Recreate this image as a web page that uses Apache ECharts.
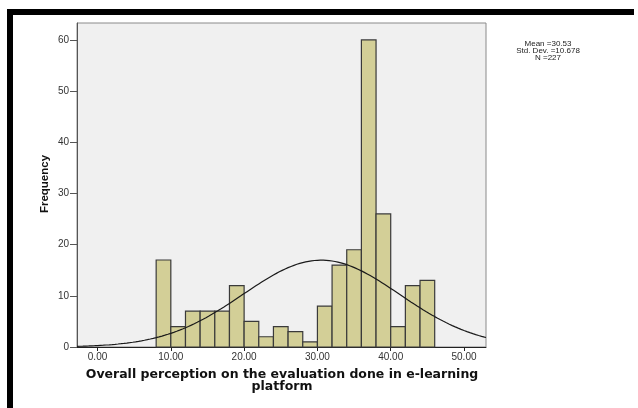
<!DOCTYPE html>
<html>
<head>
<meta charset="utf-8">
<script src="https://cdn.jsdelivr.net/npm/echarts@6/dist/echarts.min.js"></script>
<style>
  html, body { margin: 0; padding: 0; background: #fff; }
  #chart { width: 638px; height: 408px; }
</style>
</head>
<body>
<div id="chart"></div>
<script>
// Histogram bins (lower edge, width 2) and their frequencies
const binLower = [8, 10, 12, 14, 16, 18, 20, 22, 24, 26, 28, 30, 32, 34, 36, 38, 40, 42, 44];
const binWidth = 2;
const frequency = [17, 4, 7, 7, 7, 12, 5, 2, 4, 3, 1, 8, 16, 19, 60, 26, 4, 12, 13];

// Summary statistics shown beside the plot
const stats = { mean: 30.53, sd: 10.678, n: 227 };

// Axis ticks
const xTicks = [0, 10, 20, 30, 40, 50];
const yTicks = [0, 10, 20, 30, 40, 50, 60];

const xMin = -2.8, xMax = 53, yMax = 63.3;

// Fitted normal curve scaled to counts per bin
const curve = [];
for (let x = xMin; x <= xMax + 1e-9; x += 0.2) {
  const z = (x - stats.mean) / stats.sd;
  const y = stats.n * binWidth * Math.exp(-0.5 * z * z) / (stats.sd * Math.sqrt(2 * Math.PI));
  curve.push([x, y]);
}

const bars = binLower.map((lo, i) => [lo, lo + binWidth, frequency[i]]);

const chart = echarts.init(document.getElementById('chart'), null, { renderer: 'canvas' });

const labelFont = { fontFamily: 'Arial, "Liberation Sans", sans-serif', fontSize: 10, color: '#333' };

chart.setOption({
  animation: false,
  backgroundColor: '#ffffff',
  grid: {
    left: 77, top: 23, right: 152, bottom: 61,
    show: true, backgroundColor: '#f0f0f0', borderColor: '#8a8a8a', borderWidth: 1
  },
  xAxis: {
    type: 'value', min: xMin, max: xMax,
    axisLine: { show: true, onZero: false, lineStyle: { color: '#222', width: 1 } },
    axisTick: { show: true, customValues: xTicks, length: 4, lineStyle: { color: '#222' } },
    axisLabel: Object.assign({ customValues: xTicks, margin: 5, formatter: v => v.toFixed(2) }, labelFont),
    splitLine: { show: false }
  },
  yAxis: {
    type: 'value', min: 0, max: yMax,
    axisLine: { show: true, onZero: false, lineStyle: { color: '#555', width: 1 } },
    axisTick: { show: true, customValues: yTicks, length: 7, lineStyle: { color: '#555' } },
    axisLabel: Object.assign({ customValues: yTicks, margin: 8 }, labelFont),
    splitLine: { show: false }
  },
  series: [
    {
      type: 'custom',
      data: bars,
      encode: { x: [0, 1], y: 2 },
      renderItem: function (params, api) {
        const p0 = api.coord([api.value(0), 0]);
        const p1 = api.coord([api.value(1), api.value(2)]);
        return {
          type: 'rect',
          shape: { x: p0[0], y: p1[1], width: p1[0] - p0[0], height: p0[1] - p1[1] },
          style: { fill: '#d3cf97', stroke: '#3a3a3a', lineWidth: 1.2 }
        };
      },
      z: 2
    },
    {
      type: 'line',
      data: curve,
      showSymbol: false,
      smooth: false,
      clip: true,
      lineStyle: { color: '#1a1a1a', width: 1.2 },
      z: 3
    }
  ],
  graphic: [
    { type: 'rect', shape: { x: 7, y: 9, width: 627, height: 6 }, style: { fill: '#000' } },
    { type: 'rect', shape: { x: 7, y: 9, width: 6, height: 399 }, style: { fill: '#000' } },
    {
      type: 'text', x: 548, y: 51,
      style: {
        text: 'Mean =' + stats.mean.toFixed(2) + '\nStd. Dev. =' + stats.sd.toFixed(3) + '\nN =' + stats.n,
        align: 'center', verticalAlign: 'middle', lineHeight: 7,
        font: '8px Arial, "Liberation Sans", sans-serif', fill: '#222'
      }
    },
    {
      type: 'text', x: 45, y: 184, rotation: Math.PI / 2,
      style: {
        text: 'Frequency', align: 'center', verticalAlign: 'middle',
        font: 'bold 11.5px Arial, "Liberation Sans", sans-serif', fill: '#111'
      }
    },
    {
      type: 'text', x: 282, y: 381,
      style: {
        text: 'Overall perception on the evaluation done in e-learning\nplatform',
        align: 'center', verticalAlign: 'middle', lineHeight: 12,
        font: 'bold 12.5px "DejaVu Sans", Verdana, sans-serif', fill: '#111'
      }
    }
  ]
});
</script>
</body>
</html>
